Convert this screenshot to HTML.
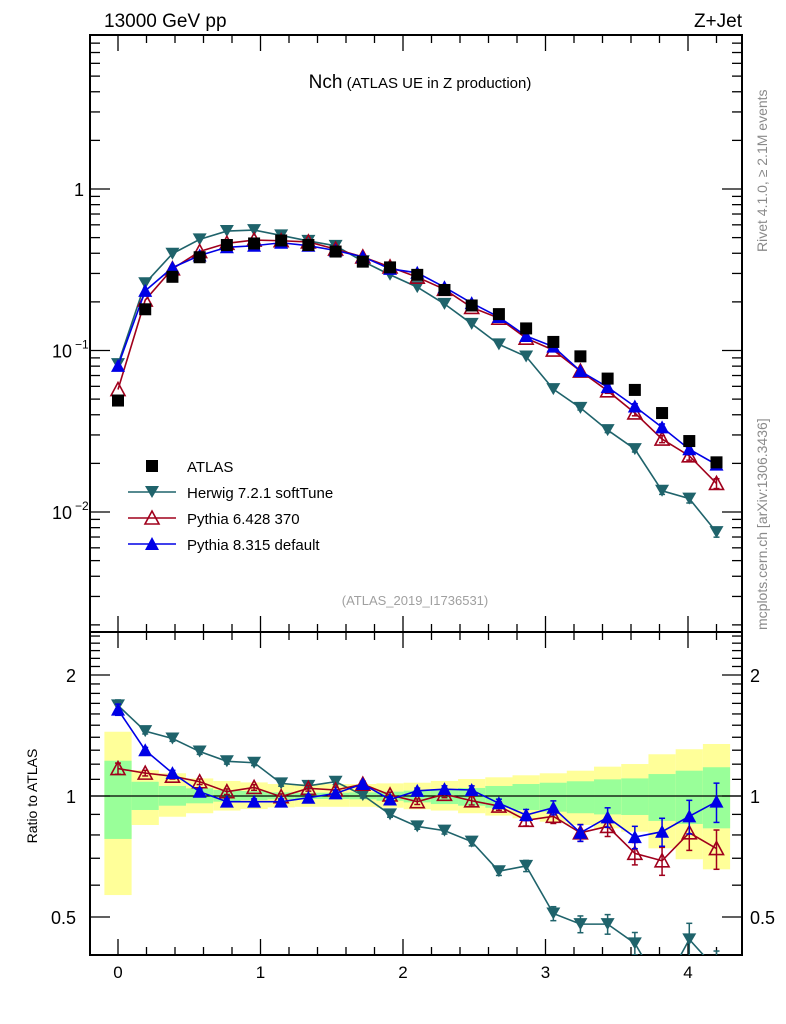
<!DOCTYPE html>
<html><head><meta charset="utf-8"><style>
html,body{margin:0;padding:0;background:#fff;}
svg{display:block;font-family:"Liberation Sans","DejaVu Sans",sans-serif;}
</style></head><body>
<svg id="chart" width="786" height="1024" viewBox="0 0 786 1024" xmlns="http://www.w3.org/2000/svg">
<g id="bands"></g>
<g id="grid"></g>
<g id="series"></g>
<text x="104" y="27" font-size="19">13000 GeV pp</text>
<text x="742" y="27" font-size="19" text-anchor="end">Z+Jet</text>
<text x="420" y="88" text-anchor="middle"><tspan font-size="19">Nch</tspan><tspan font-size="15"> (ATLAS UE in Z production)</tspan></text>
<text x="415" y="605" font-size="13" fill="#a0a0a0" text-anchor="middle">(ATLAS_2019_I1736531)</text>
<text transform="translate(767,252) rotate(-90)" font-size="14" fill="#8a8a8a">Rivet 4.1.0, ≥ 2.1M events</text>
<text transform="translate(767,630) rotate(-90)" font-size="14" fill="#8a8a8a">mcplots.cern.ch [arXiv:1306.3436]</text>
<text transform="translate(37,796) rotate(-90)" font-size="14" text-anchor="middle">Ratio to ATLAS</text>
<g id="legend"></g>
</svg>
<script>
const xs = [0,0.191,0.382,0.573,0.764,0.955,1.145,1.336,1.527,1.718,1.909,2.1,2.291,2.482,2.673,2.864,3.055,3.245,3.436,3.627,3.818,4.009,4.2];
const atlas = [0.049,0.18,0.286,0.378,0.45,0.46,0.48,0.45,0.41,0.355,0.327,0.294,0.237,0.19,0.168,0.137,0.113,0.092,0.067,0.057,0.041,0.0275,0.0203];
const herwigRatio = [1.68,1.45,1.39,1.29,1.22,1.21,1.075,1.06,1.085,1.005,0.90,0.84,0.82,0.77,0.65,0.67,0.51,0.48,0.48,0.43,0.33,0.44,0.37];
const py6Ratio = [1.17,1.14,1.12,1.085,1.025,1.05,0.996,1.045,1.035,1.07,1.006,0.968,1.01,0.973,0.944,0.87,0.89,0.81,0.84,0.72,0.69,0.81,0.74];
const py8Ratio = [1.64,1.30,1.14,1.025,0.968,0.968,0.968,0.99,1.015,1.071,0.98,1.03,1.04,1.035,0.959,0.897,0.935,0.81,0.885,0.79,0.815,0.89,0.968];
const mcRelErr = [0.02,0.01,0.01,0.01,0.01,0.01,0.01,0.01,0.01,0.01,0.01,0.01,0.012,0.015,0.015,0.02,0.025,0.03,0.035,0.04,0.05,0.06,0.07];
const yellowHi = [1.445,1.16,1.139,1.106,1.09,1.081,1.071,1.071,1.071,1.071,1.075,1.079,1.09,1.102,1.113,1.126,1.139,1.156,1.183,1.201,1.27,1.307,1.347];
const yellowLo = [0.567,0.847,0.888,0.906,0.92,0.928,0.937,0.94,0.94,0.94,0.935,0.927,0.92,0.906,0.894,0.88,0.863,0.847,0.831,0.815,0.741,0.696,0.657];
const greenHi = [1.224,1.085,1.059,1.045,1.035,1.029,1.021,1.019,1.019,1.021,1.025,1.031,1.039,1.047,1.059,1.071,1.079,1.088,1.1,1.106,1.134,1.156,1.179];
const greenLo = [0.782,0.923,0.946,0.959,0.968,0.977,0.981,0.983,0.983,0.981,0.973,0.964,0.955,0.946,0.935,0.923,0.914,0.906,0.9,0.897,0.867,0.852,0.831];
const xTicks = [0,1,2,3,4];
const mainTickLabels = [{v:1,t:"1"},{v:0.1,t:"10",e:"−1"},{v:0.01,t:"10",e:"−2"}];
const ratioTicks = [2,1,0.5];

const L=90,R=742,MT=35,MB=632,RT=632,RB=955;
const X = v => 118 + 142.5*v;
const YM = v => 189 - 161.5*Math.log10(v);
const YR = r => 796 - 121*Math.log2(r);
const NS="http://www.w3.org/2000/svg";
function mk(parent,tag,attrs){const e=document.createElementNS(NS,tag);for(const k in attrs)e.setAttribute(k,attrs[k]);parent.appendChild(e);return e;}
const gB=document.getElementById('bands'),gG=document.getElementById('grid'),gS=document.getElementById('series'),gL=document.getElementById('legend');
const half=0.0955;
// bands
for(let i=0;i<xs.length;i++){
  const x0=Math.max(L,X(xs[i]-half)), x1=X(xs[i]+half);
  const y=mk(gB,'rect',{x:x0,y:YR(yellowHi[i]),width:x1-x0,height:YR(yellowLo[i])-YR(yellowHi[i]),fill:'#ffff99'});
  
  
  const g=mk(gB,'rect',{x:x0,y:YR(greenHi[i]),width:x1-x0,height:YR(greenLo[i])-YR(greenHi[i]),fill:'#99ff99'});
  
  
}
mk(gB,'line',{x1:L,x2:R,y1:YR(1),y2:YR(1),stroke:'#000','stroke-width':1.3});
// frames
for(const [t,b] of [[MT,MB],[RT,RB]]){
  const f=mk(gG,'rect',{x:L,y:t,width:R-L,height:b-t,fill:'none',stroke:'#000','stroke-width':2});
  
  
}
// x ticks
for(let k=-1;k<=22;k++){
  const v=k*0.2; const x=X(v); if(x<L||x>R) continue;
  const maj=Math.abs(v-Math.round(v))<1e-6; const len=maj?16:8;
  for(const [t,b] of [[MT,MB],[RT,RB]]){
    mk(gG,'line',{x1:x,x2:x,y1:b,y2:b-len,stroke:'#000','stroke-width':1.3});
    mk(gG,'line',{x1:x,x2:x,y1:t,y2:t+len,stroke:'#000','stroke-width':1.3});
  }
}
xTicks.forEach(v=>{const t=mk(gG,'text',{x:X(v),y:978,'font-size':17,'text-anchor':'middle'});t.textContent=v;

});
// main y ticks
for(let d=-3;d<=0;d++){for(let m=1;m<=9;m++){const v=m*Math.pow(10,d);const y=YM(v);if(y<MT||y>MB)continue;const len=m==1?20:10;
mk(gG,'line',{x1:L,x2:L+len,y1:y,y2:y,stroke:'#000','stroke-width':1.3});mk(gG,'line',{x1:R,x2:R-len,y1:y,y2:y,stroke:'#000','stroke-width':1.3});}}
mainTickLabels.forEach(o=>{const t=mk(gG,'text',{x:o.e?72:84,y:YM(o.v)+7,'font-size':18,'text-anchor':'end'});t.textContent=o.t;


if(o.e){const s=mk(gG,'text',{x:75,y:YM(o.v)-2,'font-size':12});s.textContent=o.e;}});
// ratio y ticks
for(let v=0.3;v<=2.6;v+=0.1){const r=Math.round(v*10)/10;const y=YR(r);if(y<RT||y>RB)continue;const maj=(r==0.5||r==1||r==2);const len=maj?20:10;
mk(gG,'line',{x1:L,x2:L+len,y1:y,y2:y,stroke:'#000','stroke-width':1.3});mk(gG,'line',{x1:R,x2:R-len,y1:y,y2:y,stroke:'#000','stroke-width':1.3});}
ratioTicks.forEach(r=>{for(const [x,a] of [[76,'end'],[750,'start']]){const t=mk(gG,'text',{x:x,y:YR(r)+7,'font-size':18,'text-anchor':a});t.textContent=r;

}});
// markers
function marker(g,type,x,y,col){
  if(type=='sq') return mk(g,'rect',{x:x-6,y:y-6,width:12,height:12,fill:'#000'});
  if(type=='down') return mk(g,'polygon',{points:`${x-7},${y-6} ${x+7},${y-6} ${x},${y+6}`,fill:col});
  if(type=='upOpen') return mk(g,'polygon',{points:`${x-7},${y+6} ${x+7},${y+6} ${x},${y-7}`,fill:'none',stroke:col,'stroke-width':1.6});
  return mk(g,'polygon',{points:`${x-7},${y+6} ${x+7},${y+6} ${x},${y-7}`,fill:col});
}
const series=[
 {name:'herwig',ratio:herwigRatio,col:'#1f636b',type:'down'},
 {name:'pythia6',ratio:py6Ratio,col:'#a0001c',type:'upOpen'},
 {name:'pythia8',ratio:py8Ratio,col:'#0000e6',type:'up'}];
const clipR=mk(gS,'clipPath',{id:'cr'});mk(clipR,'rect',{x:L,y:RT,width:R-L,height:RB-RT});
series.forEach(s=>{
  const g=mk(gS,'g',{});
  
  
  const main=s.ratio.map((r,i)=>r*atlas[i]);
  mk(g,'polyline',{points:xs.map((x,i)=>X(x)+','+YM(main[i])).join(' '),fill:'none',stroke:s.col,'stroke-width':1.6});
  xs.forEach((x,i)=>{const e=mainErr=main[i]*mcRelErr[i];const y1=YM(main[i]+e),y2=YM(main[i]-e);
    if(y2-y1>4){mk(g,'line',{x1:X(x),x2:X(x),y1:y1,y2:y2,stroke:s.col,'stroke-width':1.5});mk(g,'line',{x1:X(x)-3,x2:X(x)+3,y1:y1,y2:y1,stroke:s.col,'stroke-width':1.5});mk(g,'line',{x1:X(x)-3,x2:X(x)+3,y1:y2,y2:y2,stroke:s.col,'stroke-width':1.5});}
    marker(g,s.type,X(x),YM(main[i]),s.col);});
  const gr=mk(gS,'g',{'clip-path':'url(#cr)'});
  
  
  mk(gr,'polyline',{points:xs.map((x,i)=>X(x)+','+YR(s.ratio[i])).join(' '),fill:'none',stroke:s.col,'stroke-width':1.6});
  xs.forEach((x,i)=>{const r=s.ratio[i],e=r*mcRelErr[i]*1.6;const y1=YR(r+e),y2=YR(r-e);
    if(y2-y1>4){mk(gr,'line',{x1:X(x),x2:X(x),y1:y1,y2:y2,stroke:s.col,'stroke-width':1.5});mk(gr,'line',{x1:X(x)-3,x2:X(x)+3,y1:y1,y2:y1,stroke:s.col,'stroke-width':1.5});mk(gr,'line',{x1:X(x)-3,x2:X(x)+3,y1:y2,y2:y2,stroke:s.col,'stroke-width':1.5});}
    marker(gr,s.type,X(x),YR(r),s.col);});
});
const ga=mk(gS,'g',{});


xs.forEach((x,i)=>marker(ga,'sq',X(x),YM(atlas[i]),'#000'));
// legend
const leg=[{t:'ATLAS',type:'sq',col:'#000',line:false},{t:'Herwig 7.2.1 softTune',type:'down',col:'#1f636b',line:true},{t:'Pythia 6.428 370',type:'upOpen',col:'#a0001c',line:true},{t:'Pythia 8.315 default',type:'up',col:'#0000e6',line:true}];
leg.forEach((o,k)=>{const y=466+k*26;const g=mk(gL,'g',{});
  
  
  if(o.line)mk(g,'line',{x1:128,x2:176,y1:y,y2:y,stroke:o.col,'stroke-width':1.6});
  marker(g,o.type,152,y,o.col);
  const t=mk(g,'text',{x:187,y:y+6,'font-size':15});t.textContent=o.t;});
</script>
</body></html>
